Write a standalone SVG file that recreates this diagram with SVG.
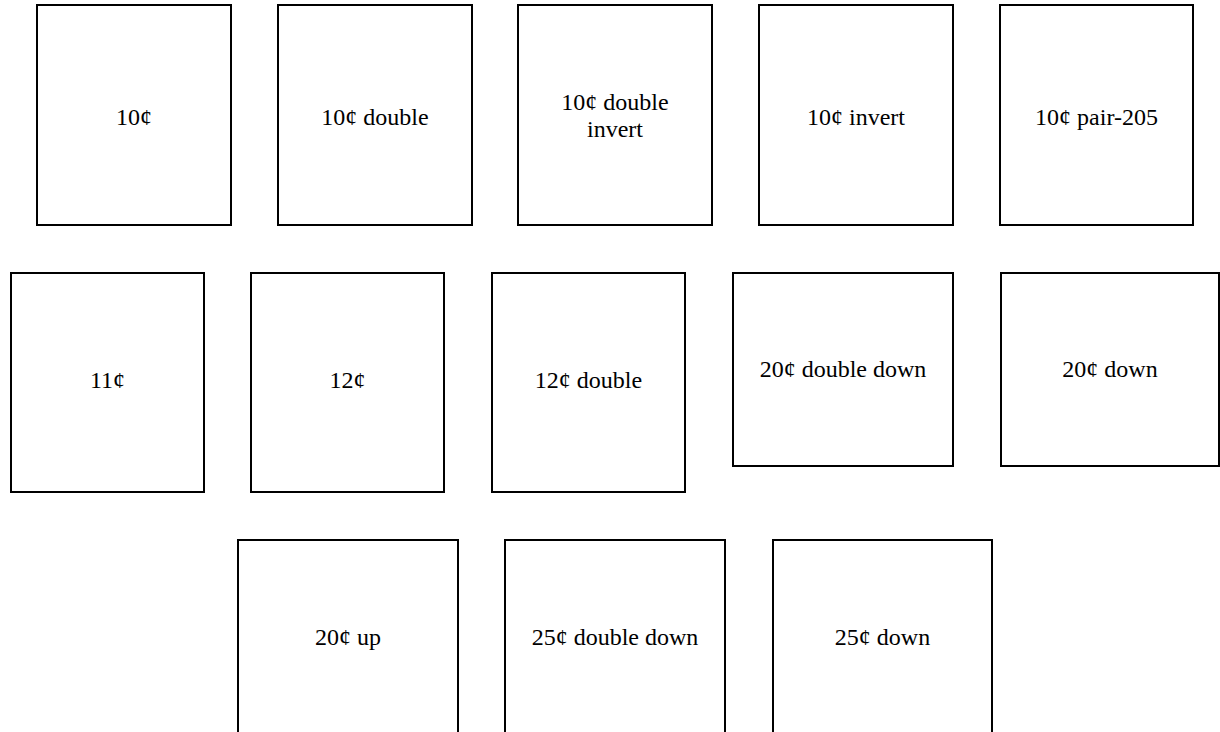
<svg xmlns="http://www.w3.org/2000/svg" width="1220" height="732" viewBox="0 0 1220 732">
<style>
.box{fill:#fff;stroke:#000;stroke-width:2}
.lbl{font-family:"Liberation Serif","Times New Roman",serif;font-size:24px;fill:#000;text-anchor:middle}
</style>
<rect width="1220" height="732" fill="#fff"/>
<g id="connectors"></g>
<g id="n1"><rect class="box" x="37" y="5" width="194" height="220"/><text class="lbl" x="134" y="125">10¢</text></g>
<g id="n2"><rect class="box" x="278" y="5" width="194" height="220"/><text class="lbl" x="375" y="125">10¢ double</text></g>
<g id="n3"><rect class="box" x="518" y="5" width="194" height="220"/><text class="lbl" x="615" y="110">10¢ double</text><text class="lbl" x="615" y="137">invert</text></g>
<g id="n4"><rect class="box" x="759" y="5" width="194" height="220"/><text class="lbl" x="856" y="125">10¢ invert</text></g>
<g id="n5"><rect class="box" x="1000" y="5" width="193" height="220"/><text class="lbl" x="1096.5" y="125">10¢ pair-205</text></g>
<g id="n6"><rect class="box" x="11" y="273" width="193" height="219"/><text class="lbl" x="107.5" y="388">11¢</text></g>
<g id="n7"><rect class="box" x="251" y="273" width="193" height="219"/><text class="lbl" x="347.5" y="388">12¢</text></g>
<g id="n8"><rect class="box" x="492" y="273" width="193" height="219"/><text class="lbl" x="588.5" y="388">12¢ double</text></g>
<g id="n9"><rect class="box" x="733" y="273" width="220" height="193"/><text class="lbl" x="843" y="377">20¢ double down</text></g>
<g id="n10"><rect class="box" x="1001" y="273" width="218" height="193"/><text class="lbl" x="1110" y="377">20¢ down</text></g>
<g id="n11"><rect class="box" x="238" y="540" width="220" height="210"/><text class="lbl" x="348" y="645">20¢ up</text></g>
<g id="n12"><rect class="box" x="505" y="540" width="220" height="210"/><text class="lbl" x="615" y="645">25¢ double down</text></g>
<g id="n13"><rect class="box" x="773" y="540" width="219" height="210"/><text class="lbl" x="882.5" y="645">25¢ down</text></g>
</svg>
